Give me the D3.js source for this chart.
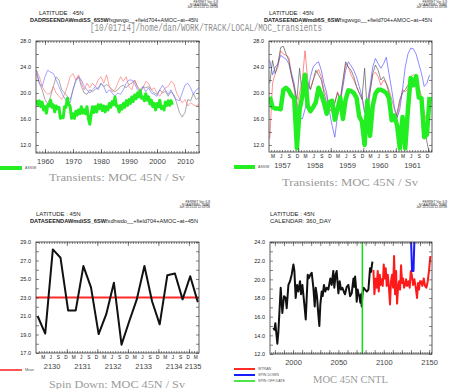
<!DOCTYPE html>
<html lang="en">
<head>
<meta charset="utf-8">
<script src="https://d3js.org/d3.v7.min.js"></script>
<style>
	body { margin:0; background:#fff; }
	svg { display:block; font-family:'Liberation Sans', Arial, sans-serif; }
	.box { fill:none; stroke:#333; stroke-width:0.8; }
	.hdr { font-size:6px; fill:#222; }
	.title { font-family:'Liberation Serif','DejaVu Serif',serif; font-size:11px; fill:#9a9a9a; }
	.path { font-family:'Liberation Mono','DejaVu Sans Mono',monospace; font-size:10px; fill:#8c8c8c; }
	.ferret { font-size:3.2px; fill:#333; text-anchor:end; }
	.leg { font-size:3.6px; fill:#555; }
	.line { fill:none; stroke-linejoin:round; }
</style>
</head>
<body>
<div id="chart"></div>
<script>
var width = 449, height = 389;

// ---- top left: transients 1957-2015 (yearly thin runs, half-yearly ASSIM)
var tlYears = d3.range(1957, 2016);
var tlGray = [23.0,21.5,20.5,19.0,18.3,19.5,21.0,22.5,22.0,20.5,
	20.0,19.5,19.0,20.5,22.0,22.5,21.0,20.0,19.8,20.5,
	20.2,20.6,20.8,21.5,21.0,21.3,21.0,20.5,20.2,20.5,
	21.0,21.2,20.8,21.3,21.5,22.0,21.0,20.5,21.0,20.8,
	21.0,20.5,20.0,19.8,20.5,20.0,20.3,19.5,20.2,19.8,
	18.5,17.0,16.3,17.0,19.0,18.8,19.9,19.0,19.3];
var tlRed = [23.5,22.5,21.0,20.2,19.8,20.0,21.0,20.0,19.5,19.0,
	19.8,21.0,22.5,23.0,22.0,22.8,21.5,20.5,21.5,20.8,
	21.5,21.0,22.0,22.5,21.5,22.8,21.0,20.2,20.5,21.5,
	22.5,21.8,22.5,21.0,20.5,22.0,21.0,20.0,20.8,21.8,
	21.5,20.5,20.8,20.0,19.5,20.2,20.8,21.0,21.8,21.5,
	20.0,19.2,18.5,19.0,18.0,18.5,18.2,18.0,18.3];
var tlBlue = [23.5,21.5,21.0,22.5,23.5,23.2,23.0,22.0,21.0,20.0,
	19.2,18.5,18.5,20.5,21.8,22.5,22.0,21.0,20.5,20.0,
	20.5,21.0,20.5,21.5,21.0,20.0,20.5,20.0,19.5,20.0,
	19.8,20.5,21.5,22.0,22.0,21.5,20.5,20.0,21.0,20.2,
	20.8,20.0,19.8,19.5,20.5,21.2,20.5,19.8,20.5,19.5,
	19.0,18.8,20.0,21.2,21.5,20.8,19.8,20.5,20.8];
var tlAssimTimes = d3.range(1957, 2006, 0.5);
var tlAssim = [18.9,18.2,18.8,17.9,18.6,17.4,17.9,16.9,18.2,18.0,
	18.9,17.8,18.2,17.1,18.0,17.6,17.8,16.1,16.4,16.2,
	17.9,17.8,19.2,18.3,17.9,16.1,16.8,16.1,17.2,16.6,
	17.4,16.8,17.9,16.9,17.4,16.8,17.9,16.1,15.2,16.8,
	17.9,17.0,17.9,17.1,18.2,17.6,18.2,17.3,18.0,17.1,
	17.9,17.4,18.4,17.8,18.7,18.2,19.4,18.0,18.0,17.1,
	18.1,17.5,18.4,17.8,18.8,18.1,19.0,18.4,19.4,18.7,
	19.7,19.1,20.0,19.4,20.4,19.2,19.4,18.8,19.9,18.9,
	19.4,18.3,18.9,17.9,18.4,17.4,18.4,17.9,18.9,17.6,
	17.9,17.4,18.6,18.1,18.8,18.1,18.8,18.2];
var tlXLabels = [1960, 1970, 1980, 1990, 2000, 2010];

// ---- top right: transients Feb 1957 - Jan 1962, monthly
var trMonths = d3.range(60).map(function(k){ return 1957.125 + k / 12; });
var trAssim = [19.4,17.8,17.6,17.6,17.5,20.5,20.8,20.4,19.6,19.2,
	11.5,17.5,19.5,22.8,18.0,17.2,17.8,18.6,20.8,19.8,
	18.5,16.8,18.6,18.8,15.9,17.5,19.3,16.0,19.0,20.4,
	20.3,20.0,19.3,16.4,15.6,12.0,18.8,13.4,18.0,19.9,
	20.5,20.5,20.3,20.0,19.2,15.8,16.5,15.0,11.5,16.3,
	11.5,17.5,22.3,21.2,22.6,19.3,19.2,13.2,13.6,19.4];
var trRed = [13.0,21.5,23.0,24.0,26.5,26.0,25.8,25.5,23.0,20.5,
	17.8,20.0,22.0,26.5,22.0,20.6,22.0,23.0,23.6,22.5,
	20.5,19.5,17.5,17.0,18.5,20.2,19.0,21.5,24.5,24.0,
	22.8,22.0,21.0,20.0,19.5,17.0,18.0,20.5,22.8,23.2,
	22.5,21.2,22.0,21.5,20.5,19.0,17.5,16.2,18.5,20.5,
	20.2,20.6,22.5,22.8,22.5,21.0,19.5,17.0,15.5,19.2];
var trBlue = [25.0,22.8,24.0,24.5,25.8,25.5,25.2,24.5,23.0,21.5,
	18.0,16.2,16.0,17.5,20.0,22.5,24.0,24.5,24.8,23.5,
	21.5,20.0,17.2,15.0,13.2,16.5,18.5,21.0,23.5,24.8,
	24.2,23.5,22.5,21.0,19.5,17.0,18.5,21.0,24.0,25.3,
	24.5,23.8,24.5,25.5,23.0,20.5,17.8,16.2,17.5,20.5,
	24.0,26.0,26.9,26.8,26.0,24.5,23.0,21.0,21.5,22.8];
var trGray = [21.5,25.0,23.0,24.5,27.0,27.2,26.0,25.0,22.5,21.0,
	19.0,23.8,19.5,20.5,21.5,20.5,22.0,23.5,22.8,22.0,
	20.0,18.5,17.5,17.3,18.5,20.0,19.0,22.0,24.8,24.0,
	23.5,22.5,21.0,20.0,19.0,23.8,17.0,20.0,23.0,24.3,
	23.5,22.0,22.5,21.5,20.0,17.5,15.5,17.0,19.0,20.0,
	20.5,21.2,21.8,22.0,21.5,20.0,18.0,15.5,12.5,10.5];
var trYearLabels = [1957, 1958, 1959, 1960, 1961];
var monthLetters = ["M", "J", "S", "D"];

// ---- bottom left: spin down, seasonal
var blTimes = d3.range(22).map(function(k){ return 2130.042 + k * 0.25; });
var blValues = [21.0,19.1,28.2,27.3,21.6,21.6,26.4,24.1,19.05,21.2,
	24.6,17.9,20.4,22.8,26.4,22.6,20.1,25.4,25.6,22.8,25.3,22.5];
var blYearLabels = [2130, 2131, 2132, 2133, 2134, 2135];

// ---- bottom right: control run, annual
var cntlYears = [1978.3,1979.5,1980.5,1982.7,1983.8,1986.4,1988.2,1990.1,1991.9,1993.0,
	1994.9,1996.7,1998.5,2000.4,2001.5,2002.9,2004.4,2005.9,2007.7,2008.8,
	2010.3,2012.5,2014.0,2016.2,2017.3,2019.1,2020.6,2022.4,2023.9,2025.0,
	2026.4,2027.9,2029.0,2030.1,2031.6,2032.7,2034.1,2035.6,2037.1,2038.9,
	2041.1,2042.6,2044.4,2045.5,2047.0,2048.1,2050.0,2051.4,2052.9,2054.4,
	2055.9,2057.3,2059.2,2061.0,2062.9,2064.7,2066.6,2067.5,2068.4,2069.3,
	2070.2,2071.3,2072.0,2073.1,2074.2,2075.0,2075.7,2076.8,2077.9,2079.4,
	2081.3,2083.1,2084.9,2086.0,2087.5];
var cntlValues = [14.8,14.6,15.3,13.1,14.3,19.1,16.4,18.2,18.0,16.9,
	19.4,19.8,20.5,21.6,20.9,18.0,19.4,18.7,19.8,18.4,
	19.4,17.3,15.7,20.5,20.1,20.5,20.7,19.1,17.1,19.1,
	18.2,16.2,15.0,17.3,18.7,18.2,19.4,18.7,19.1,18.9,
	20.1,19.4,20.9,19.1,20.5,20.9,18.5,19.8,18.9,19.1,
	18.7,18.4,19.2,19.4,18.2,18.5,20.1,19.2,20.3,19.3,
	17.6,18.9,18.5,18.2,17.5,18.4,17.1,18.7,19.1,18.9,
	18.7,18.9,21.2,20.8,21.9];
var wtranYears = [2088.6,2089.7,2091.2,2092.3,2093.4,2094.5,2095.6,2096.7,2097.8,2098.9,
	2100.0,2101.1,2102.2,2103.3,2104.4,2105.5,2106.9,2108.0,2109.2,2110.3,
	2111.4,2112.5,2113.6,2114.7,2115.8,2116.9,2118.0,2119.1,2120.2,2121.3,
	2122.4,2123.5,2124.6,2125.7,2127.2,2128.6,2129.8,2130.9,2132.3,2133.8,
	2135.3,2136.7,2137.8,2138.9,2140.0,2141.1,2142.6,2144.1,2145.5,2147.0,
	2148.5,2149.9,2151.4];
var wtranValues = [21.0,18.4,20.1,19.1,20.9,18.7,20.5,19.4,20.0,19.3,
	21.6,20.1,21.2,19.3,20.5,19.4,17.3,19.8,20.5,19.1,
	22.5,18.4,20.9,17.4,19.1,19.8,18.9,21.5,19.6,20.1,
	19.1,19.4,20.0,19.3,19.8,19.1,20.9,20.5,19.4,20.0,
	19.1,18.0,19.6,18.9,19.8,19.8,19.3,20.1,19.3,19.1,
	19.8,20.9,22.5];
var spinYears = [2129.5, 2131.2, 2132.8, 2134.3];
var spinValues = [26.0, 20.9, 20.9, 26.0];
var spinOffYear = 2076.4;
var brXLabels = [2000, 2050, 2100, 2150];

var svg = d3.select("#chart").append("svg")
	.attr("width", width)
	.attr("height", height);
var defs = svg.append("defs");
var clipCount = 0;

function txt(x, y, s, cls, len) {
	var t = svg.append("text").attr("x", x).attr("y", y).attr("class", cls).text(s);
	if (len) t.attr("textLength", len).attr("lengthAdjust", "spacingAndGlyphs");
	return t;
}

// the dataset line in the reference is two strings printed over each other;
// here one string, its first part in bold to give the same smudge
function dataset(x, y, head, rest) {
	var t = svg.append("text").attr("x", x).attr("y", y).attr("class", "hdr")
		.attr("textLength", 168).attr("lengthAdjust", "spacingAndGlyphs");
	t.append("tspan").attr("font-weight", "bold").text(head);
	t.append("tspan").text(rest);
}

function clean(sel) {
	sel.select(".domain").remove();
	sel.selectAll("line").attr("stroke", "#333").attr("stroke-width", 0.6);
}

// inward tick marks on one side of the frame
function ticks(g, axis, tx, ty, vals, size) {
	g.append("g").attr("transform", "translate(" + tx + "," + ty + ")")
		.call(axis.tickValues(vals).tickSize(-size).tickFormat(""))
		.call(clean);
}

function labels(g, axis, tx, ty, vals, fmt, pad, fs, col) {
	g.append("g").attr("transform", "translate(" + tx + "," + ty + ")")
		.call(axis.tickValues(vals).tickSize(0).tickPadding(pad).tickFormat(fmt))
		.call(clean)
		.attr("font-size", fs)
		.attr("font-family", "'Liberation Sans', Arial, sans-serif")
		.selectAll("text").attr("fill", col);
}

function panel(o) {
	var x = d3.scaleLinear().domain(o.xDomain).range([o.left, o.right]);
	var y = d3.scaleLinear().domain(o.yDomain).range([o.bottom, o.top]);
	var id = "clip" + (clipCount++);
	defs.append("clipPath").attr("id", id).append("rect")
		.attr("x", o.left).attr("y", o.top)
		.attr("width", o.right - o.left).attr("height", o.bottom - o.top);
	var g = svg.append("g");
	var plot = g.append("g").attr("clip-path", "url(#" + id + ")");

	ticks(g, d3.axisLeft(y), o.left, 0, o.yTicks, 3);
	ticks(g, d3.axisRight(y), o.right, 0, o.yTicks, 3);
	ticks(g, d3.axisBottom(x), 0, o.bottom, o.xMinor, 2);
	ticks(g, d3.axisTop(x), 0, o.top, o.xMinor, 2);
	ticks(g, d3.axisBottom(x), 0, o.bottom, o.xMajor, 4);
	ticks(g, d3.axisTop(x), 0, o.top, o.xMajor, 4);

	labels(g, d3.axisLeft(y), o.left, 0, o.yLabels, d3.format(".1f"), 5, 5.5, "#222");

	g.append("rect").attr("class", "box")
		.attr("x", o.left).attr("y", o.top)
		.attr("width", o.right - o.left).attr("height", o.bottom - o.top);

	var line = d3.line().x(function(d){ return x(d[0]); }).y(function(d){ return y(d[1]); });
	return { x: x, y: y, g: g, plot: plot, line: line };
}

function series(p, xs, ys, color, w, op) {
	p.plot.append("path").attr("class", "line")
		.datum(d3.zip(xs, ys))
		.attr("d", p.line)
		.attr("stroke", color)
		.attr("stroke-width", w)
		.attr("stroke-opacity", op || 1);
}

function ferret(xr, y) {
	txt(xr, y, "FERRET Ver. 6.8", "ferret");
	txt(xr, y + 2.6, "NOAA/PMEL TMAP", "ferret");
	txt(xr, y + 5.2, "Jan 10 2014 12:03:08", "ferret");
}

function legendLine(x0, x1, y, color, w, label) {
	svg.append("line").attr("x1", x0).attr("x2", x1).attr("y1", y).attr("y2", y)
		.attr("stroke", color).attr("stroke-width", w);
	txt(x1 + 3, y + 1.2, label, "leg");
}

// ================= top left
ferret(218, 3);
txt(39, 15, "LATITUDE : 45N", "hdr");
dataset(30, 22, "DADRSEENDAWmdiSS_6S5W", "fxgwvgo__+field704+AMOC~at~45N");
txt(90, 31, "[10/01714]/home/dan/WORK/TRACK/LOCAL/MOC_transients", "path", 232);

var tl = panel({
	left: 36, right: 199, top: 41, bottom: 153,
	xDomain: [1956.8, 2015.0], yDomain: [10.77, 28],
	yTicks: d3.range(12, 29, 2), yLabels: [12, 16, 20, 24, 28],
	xMinor: d3.range(1957, 2016), xMajor: d3.range(1960, 2016, 10)
});
series(tl, tlYears, tlGray, "#777", 0.8, 0.8);
series(tl, tlYears, tlRed, "#ff7070", 0.8, 0.8);
series(tl, tlYears, tlBlue, "#7070ff", 0.8, 0.8);
series(tl, tlAssimTimes, tlAssim, "#22ee22", 3);
labels(tl.g, d3.axisBottom(tl.x), 0, 153, tlXLabels, d3.format("d"), 6, 7.5, "#444");
legendLine(0, 22, 168, "#22ee22", 4, "ASSIM");
txt(49, 181, "Transients: MOC 45N / Sv", "title", 136);

// ================= top right
ferret(447, 3);
txt(269, 15, "LATITUDE : 45N", "hdr");
dataset(264, 22, "DATASEENDAWmdi6S_6SW", "fxgwvgo__+field704+AMOC~at~45N");

var tr = panel({
	left: 269, right: 432, top: 41, bottom: 152,
	xDomain: [1957.1, 1962.115], yDomain: [10.92, 28],
	yTicks: d3.range(12, 29, 2), yLabels: [12, 16, 20, 24, 28],
	xMinor: d3.range(1957 + 2 / 12, 1962.1, 1 / 12), xMajor: d3.range(1958, 1963)
});
series(tr, trMonths, trRed, "#ff5555", 0.8, 0.85);
series(tr, trMonths, trBlue, "#5555ff", 0.8, 0.85);
series(tr, trMonths, trGray, "#555", 0.8, 0.85);
series(tr, trMonths, trAssim, "#22ee22", 4.5);

var trMonthPos = [];
trYearLabels.forEach(function(yr){
	[2, 5, 8, 11].forEach(function(m){ trMonthPos.push(yr + (m + 0.5) / 12); });
});
labels(tr.g, d3.axisBottom(tr.x), 0, 152, trMonthPos,
	function(d, i){ return monthLetters[i % 4]; }, 3, 4.8, "#222");
labels(tr.g, d3.axisBottom(tr.x), 0, 152, trYearLabels.map(function(d){ return d + 0.5; }),
	function(d){ return Math.floor(d); }, 11, 7.5, "#444");
legendLine(234, 255, 167, "#22ee22", 4, "ASSIM");
txt(282, 186, "Transients: MOC 45N / Sv", "title", 136);

// ================= bottom left
ferret(210, 203);
txt(36, 216, "LATITUDE : 45N", "hdr");
dataset(30, 223, "DATASEENDAWmdiSS_6SW", "fxdhwdo__+field704+AMOC~at~45N");

var bl = panel({
	left: 36, right: 199, top: 242, bottom: 353,
	xDomain: [2129.99, 2135.33], yDomain: [17, 29],
	yTicks: d3.range(17, 30, 1), yLabels: d3.range(17, 30, 2),
	xMinor: d3.range(2130 + 1 / 12, 2135.33, 1 / 12), xMajor: d3.range(2131, 2136)
});
var blMean = d3.mean(blValues);
series(bl, [2129.99, 2135.33], [blMean, blMean], "#ff2a2a", 2);
series(bl, blTimes, blValues, "#111", 2);

var blMonthPos = [];
blYearLabels.forEach(function(yr){
	[2, 5, 8, 11].forEach(function(m){
		var t = yr + (m + 0.5) / 12;
		if (t < 2135.33) blMonthPos.push(t);
	});
});
labels(bl.g, d3.axisBottom(bl.x), 0, 353, blMonthPos,
	function(d, i){ return monthLetters[i % 4]; }, 3, 4.8, "#222");
labels(bl.g, d3.axisBottom(bl.x), 0, 353,
	blYearLabels.map(function(d){ return d < 2135 ? d + 0.5 : d + 0.12; }),
	function(d){ return Math.floor(d); }, 11, 7.5, "#444");
legendLine(0, 22, 370, "#ff5555", 2, "Mean");
txt(49, 388, "Spin Down: MOC 45N / Sv", "title", 136);

// ================= bottom right
ferret(447, 203);
txt(270, 216, "LATITUDE : 45N", "hdr");
txt(270, 223, "CALENDAR: 360_DAY", "hdr");

var br = panel({
	left: 270, right: 432, top: 242, bottom: 354,
	xDomain: [1974.6, 2153.2], yDomain: [12, 24],
	yTicks: d3.range(12, 25, 1), yLabels: d3.range(12, 25, 2),
	xMinor: d3.range(1976, 2154, 2), xMajor: d3.range(1980, 2154, 10)
});
series(br, cntlYears, cntlValues, "#111", 2);
series(br, wtranYears, wtranValues, "#ff1a1a", 2);
series(br, spinYears, spinValues, "#1a1aff", 2);
series(br, [spinOffYear, spinOffYear], [12, 24], "#11dd11", 1.5);
labels(br.g, d3.axisBottom(br.x), 0, 354, brXLabels, d3.format("d"), 6, 7.5, "#444");
legendLine(234, 255, 369, "#ff2a2a", 2, "WTRAN");
legendLine(234, 255, 375, "#1a1aff", 2, "SPIN DOWN");
legendLine(234, 255, 381, "#11dd11", 1.5, "SPIN OFF DATE");
txt(313, 383, "MOC 45N CNTL", "title", 75);
</script>
</body>
</html>
